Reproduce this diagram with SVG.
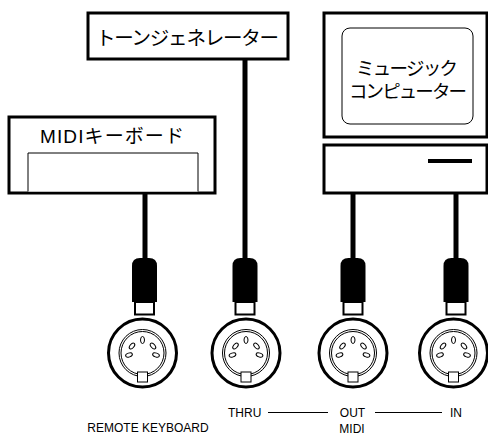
<svg xmlns="http://www.w3.org/2000/svg" xmlns:xlink="http://www.w3.org/1999/xlink" width="488" height="436" viewBox="0 0 488 436">
  <style>
    .box { fill: #fff; stroke: #000; stroke-width: 3; }
    .thin { fill: #fff; stroke: #000; stroke-width: 1; }
    .jp { font-family: "Liberation Sans", "Noto Sans CJK JP", sans-serif; fill: #000; }
    .lbl { font-family: "Liberation Sans", Arial, sans-serif; font-size: 12px; fill: #000; }
    .cable { stroke: #000; stroke-width: 5; fill: none; }
    .rule { stroke: #000; stroke-width: 1; }
  </style>
  <defs>
    <!-- DIN plug body and stem, drawn around x=0 with top at y=0 -->
    <g id="plug">
      <path d="M-12.5,44 V8 Q-12.5,0 -4.5,0 H4.5 Q12.5,0 12.5,8 V44 Z" fill="#000"/>
      <rect x="-9.5" y="44" width="19" height="12.5" fill="#fff" stroke="#000" stroke-width="2"/>
    </g>
    <!-- 5-pin DIN socket centred on 0,0 -->
    <g id="socket">
      <circle r="34" fill="#fff" stroke="#000" stroke-width="3"/>
      <circle r="23.5" fill="none" stroke="#000" stroke-width="1"/>
      <circle r="21.5" fill="none" stroke="#000" stroke-width="1"/>
      <g fill="#fff" stroke="#000" stroke-width="1">
        <ellipse cx="0" cy="-13" rx="2" ry="3.5"/>
        <ellipse cx="-10.5" cy="-7" rx="2" ry="3.5" transform="rotate(40 -10.5 -7)"/>
        <ellipse cx="10.5" cy="-7" rx="2" ry="3.5" transform="rotate(-40 10.5 -7)"/>
        <ellipse cx="-13.5" cy="2" rx="3.5" ry="2" transform="rotate(-20 -13.5 2)"/>
        <ellipse cx="13.5" cy="2" rx="3.5" ry="2" transform="rotate(20 13.5 2)"/>
        <rect x="-5" y="19" width="10" height="10"/>
      </g>
    </g>
  </defs>

  <!-- cables -->
  <g id="connectors">
    <line class="cable" x1="145" y1="193" x2="145" y2="262"/>
    <line class="cable" x1="245" y1="59" x2="245" y2="262"/>
    <line class="cable" x1="353" y1="193" x2="353" y2="262"/>
    <line class="cable" x1="456" y1="193" x2="456" y2="262"/>
  </g>

  <!-- tone generator -->
  <g id="tone-generator">
    <rect class="box" x="88" y="13" width="200" height="46"/>
    <text class="jp" x="96" y="45" font-size="19.5" textLength="183" lengthAdjust="spacing">トーンジェネレーター</text>
  </g>

  <!-- MIDI keyboard -->
  <g id="midi-keyboard">
    <rect class="box" x="9" y="117" width="206" height="76"/>
    <path class="thin" d="M28,191.5 V153 H198 V191.5"/>
    <text class="jp" x="40" y="143" font-size="19" textLength="144" lengthAdjust="spacing">MIDIキーボード</text>
  </g>

  <!-- music computer -->
  <g id="music-computer">
    <rect class="box" x="324" y="13" width="163" height="124"/>
    <rect class="thin" x="342" y="28" width="131" height="96" rx="8"/>
    <text class="jp" x="356" y="75" font-size="18.5" textLength="102" lengthAdjust="spacing">ミュージック</text>
    <text class="jp" x="349" y="98" font-size="18.5" textLength="118" lengthAdjust="spacing">コンピューター</text>
    <rect class="box" x="324" y="145" width="163" height="48"/>
    <line x1="428" y1="161" x2="472" y2="161" stroke="#000" stroke-width="4"/>
  </g>

  <!-- jacks -->
  <g id="jack-remote">
    <use xlink:href="#plug" x="144.5" y="258"/>
    <use xlink:href="#socket" x="142.5" y="353"/>
  </g>
  <g id="jack-thru">
    <use xlink:href="#plug" x="245" y="258"/>
    <use xlink:href="#socket" x="246" y="353"/>
  </g>
  <g id="jack-out">
    <use xlink:href="#plug" x="353" y="258"/>
    <use xlink:href="#socket" x="353" y="353"/>
  </g>
  <g id="jack-in">
    <use xlink:href="#plug" x="456" y="258"/>
    <use xlink:href="#socket" x="453.5" y="353"/>
  </g>

  <!-- port labels -->
  <g id="labels">
    <text class="lbl" x="148" y="432" text-anchor="middle">REMOTE KEYBOARD</text>
    <text class="lbl" x="228" y="417">THRU</text>
    <line class="rule" x1="268" y1="412.5" x2="328" y2="412.5"/>
    <text class="lbl" x="352.5" y="417" text-anchor="middle">OUT</text>
    <line class="rule" x1="375" y1="412.5" x2="442" y2="412.5"/>
    <text class="lbl" x="450" y="417">IN</text>
    <text class="lbl" x="352" y="433" text-anchor="middle">MIDI</text>
  </g>
</svg>
